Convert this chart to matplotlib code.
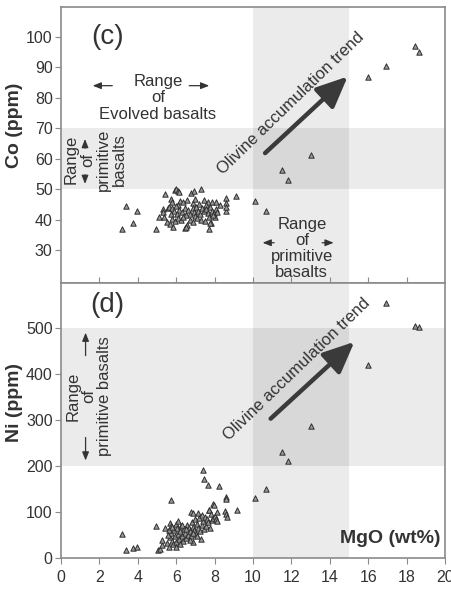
import matplotlib
matplotlib.use("Agg")
import matplotlib.pyplot as plt

plt.rcParams['font.family'] = ['Liberation Sans', 'DejaVu Sans']

# ---------------- data (c) Co vs MgO ----------------
mgo_c = [3.19, 3.37, 3.75, 3.98, 4.93,
         5.42, 5.92, 6.00, 6.08, 6.13, 6.79, 6.94, 7.31, 8.61, 9.13,
         5.73, 5.76, 6.20, 6.35, 6.55, 6.90, 7.00, 7.20, 7.45, 7.65, 7.85, 8.05, 8.30, 8.60, 7.55, 6.10,
         5.30, 5.33, 5.55, 5.65, 5.80, 5.90, 6.00, 6.15, 6.30, 6.45, 6.60, 6.70, 6.85, 6.95, 7.05, 7.15,
         7.25, 7.35, 7.45, 7.55, 7.65, 7.75, 7.85, 7.95, 8.05, 8.15, 8.60, 8.60, 5.75, 6.05, 6.50, 7.00,
         5.09, 5.37, 5.50, 5.68, 5.85, 5.80, 5.95, 6.10, 6.25, 6.55, 6.46, 6.70, 6.90, 7.10, 7.30, 7.50,
         7.70, 7.72, 7.80, 8.00, 7.90, 6.35, 6.51, 7.76,
         10.09, 10.66, 11.49, 11.84, 13.02, 15.99, 16.94, 18.44, 18.65]
co = [36.9, 44.7, 38.9, 43.0, 37.0,
      48.5, 49.9, 50.2, 49.6, 49.0, 48.9, 49.5, 50.2, 47.3, 47.8,
      46.9, 45.7, 46.3, 46.0, 46.6, 45.5, 46.8, 45.2, 46.5, 46.0, 45.7, 45.8, 45.0, 45.5, 44.8, 45.0,
      43.5, 42.5, 43.8, 44.3, 43.9, 42.8, 44.4, 43.2, 42.5, 44.0, 43.2, 42.0, 43.8, 42.7, 44.2, 43.0,
      41.8, 44.0, 42.9, 43.5, 42.4, 44.1, 43.0, 42.2, 43.6, 42.7, 43.0, 44.2, 42.0, 41.8, 41.5, 41.2,
      40.8, 40.8, 39.4, 38.6, 37.8, 40.2, 39.5, 40.5, 39.8, 38.4, 37.3, 40.0, 39.3, 40.6, 40.1, 39.7,
      40.8, 37.0, 39.0, 41.0, 41.6, 41.0, 37.5, 39.1,
      46.2, 42.8, 56.5, 53.0, 61.3, 86.8, 90.3, 96.9, 95.2]

# ---------------- data (d) Ni vs MgO ----------------
mgo_d = [3.19, 3.39, 3.77, 3.98,
         5.04, 5.16, 5.28, 5.28, 5.40, 4.95, 5.75, 5.68, 5.73, 5.99, 5.50, 5.60, 5.70, 5.75, 5.80, 5.85,
         5.90, 5.95, 6.00, 6.05, 6.10, 6.15, 6.20, 6.25, 6.30, 6.35, 6.40, 6.45, 6.50, 6.55, 6.60, 6.65,
         6.70, 6.75, 6.77, 6.80, 6.85, 6.89, 6.90, 6.95, 7.00, 7.05, 7.10, 7.12, 7.15, 7.20, 7.25, 7.29,
         7.33, 7.35, 7.40, 7.41, 7.45, 7.46, 7.50, 7.55, 7.60, 7.65, 7.67, 7.70, 7.73, 7.75, 7.80, 7.85,
         7.90, 7.93, 7.98, 8.00, 8.05, 8.10, 8.14, 8.23, 8.59, 8.59, 8.56, 8.59, 8.66, 9.15, 5.65, 5.80,
         6.00, 6.20, 6.10, 6.30, 6.50, 6.70, 6.90, 7.10, 5.55,
         10.09, 10.66, 11.49, 11.84, 13.02, 15.99, 16.94, 18.44, 18.65]
ni = [53, 18, 22, 25,
      18, 20, 28, 40, 66, 69, 126, 76, 70, 75, 32, 25, 45, 55, 38, 30,
      60, 48, 35, 65, 52, 42, 58, 70, 47, 38, 62, 55, 44, 72, 50, 65,
      58, 48, 100, 78, 35, 97, 68, 60, 85, 52, 75, 97, 65, 88, 58, 41,
      93, 72, 80, 191, 62, 171, 90, 70, 85, 78, 158, 105, 105, 65, 95, 82,
      88, 118, 116, 92, 85, 80, 100, 157, 133, 128, 102, 95, 89, 105, 60, 68,
      24, 30, 80, 72, 62, 40, 55, 48, 50,
      131, 150, 231, 211, 287, 419, 554, 504, 503]

x_ticks = [0, 2, 4, 6, 8, 10, 12, 14, 16, 18, 20]
co_ticks = [30, 40, 50, 60, 70, 80, 90, 100]
ni_ticks = [0, 100, 200, 300, 400, 500]

W, H = 452, 599
fig = plt.figure(figsize=(W / 100, H / 100), dpi=100)
left = 61 / W
width = (445 - 61) / W
ax1 = fig.add_axes([left, 1 - 283 / H, width, (283 - 7) / H])
ax2 = fig.add_axes([left, 1 - 558 / H, width, (558 - 283) / H])

spine_col = '#8a8a8a'
txt_col = '#333333'
shade = dict(color='black', alpha=0.08, lw=0, zorder=0)
mk = dict(marker='^', s=15, facecolor='#9a9a9a', edgecolor='#2e2e2e', linewidths=0.7, zorder=3)

for ax in (ax1, ax2):
    ax.set_xlim(0, 20)
    for sp in ax.spines.values():
        sp.set_color(spine_col)
        sp.set_linewidth(1.2)
    ax.axvspan(10, 15, **shade)

sa = dict(arrowstyle='-|>,head_length=0.5,head_width=0.2', lw=0.9, color=txt_col,
          shrinkA=0, shrinkB=0)
ba = dict(arrowstyle='-|>,head_length=1.9,head_width=0.85', lw=3.2, color='#3a3a3a',
          shrinkA=0, shrinkB=0)

# ---- panel (c)
ax1.set_ylim(19.3, 109.8)
ax1.axhspan(50, 70, **shade)
ax1.scatter(mgo_c, co, **mk)
ax1.set_yticks(co_ticks)
ax1.set_xticks(x_ticks[1:-1])
ax1.tick_params(axis='x', direction='in', length=4, color=spine_col, labelbottom=False)
ax1.tick_params(axis='y', direction='out', length=4, color=spine_col, labelsize=11.5,
                labelcolor=txt_col, pad=2)
ax1.set_ylabel('Co (ppm)', fontsize=14, fontweight='bold', color=txt_col)
ax1.yaxis.set_label_coords(-0.098, 0.572)

ax1.text(2.4, 100, '(c)', fontsize=20, color=txt_col, ha='center', va='center')
ax1.text(5.05, 80.0, 'Range\nof\nEvolved basalts', fontsize=12, color=txt_col,
         ha='center', va='center', linespacing=1.12)
ax1.annotate('', xy=(1.65, 84), xytext=(2.67, 84), arrowprops=sa)
ax1.annotate('', xy=(7.72, 84), xytext=(6.68, 84), arrowprops=sa)

ax1.text(1.8, 59.7, 'Range\nof\nprimitive\nbasalts', fontsize=12, color=txt_col,
         ha='center', va='center', rotation=90, linespacing=1.08)
ax1.annotate('', xy=(1.25, 66.5), xytext=(1.25, 63.5), arrowprops=sa)
ax1.annotate('', xy=(1.25, 51.8), xytext=(1.25, 54.8), arrowprops=sa)

ax1.text(12.54, 30.7, 'Range\nof\nprimitive\nbasalts', fontsize=12, color=txt_col,
         ha='center', va='center', linespacing=1.08)
ax1.annotate('', xy=(10.5, 32.5), xytext=(11.1, 32.5), arrowprops=sa)
ax1.annotate('', xy=(14.2, 32.5), xytext=(13.6, 32.5), arrowprops=sa)

ax1.annotate('', xy=(14.93, 87.0), xytext=(10.63, 61.9), arrowprops=ba)
ax1.text(11.95, 78.3, 'Olivine accumulation trend', fontsize=12, color=txt_col,
         ha='center', va='center', rotation=44, rotation_mode='anchor')

# ---- panel (d)
ax2.set_ylim(0, 598)
ax2.axhspan(200, 500, **shade)
ax2.scatter(mgo_d, ni, **mk)
ax2.set_yticks(ni_ticks)
ax2.set_xticks(x_ticks)
ax2.tick_params(axis='both', direction='out', length=4, color=spine_col, labelsize=11.5,
                labelcolor=txt_col, pad=2)
ax2.tick_params(axis='x', pad=5)
ax2.set_ylabel('Ni (ppm)', fontsize=14, fontweight='bold', color=txt_col)
ax2.yaxis.set_label_coords(-0.098, 0.567)

ax2.text(2.4, 550, '(d)', fontsize=20, color=txt_col, ha='center', va='center')
ax2.text(1.46, 352, 'Range\nof\nprimitive basalts', fontsize=12, color=txt_col,
         ha='center', va='center', rotation=90, linespacing=1.08)
ax2.annotate('', xy=(1.28, 490), xytext=(1.28, 440), arrowprops=sa)
ax2.annotate('', xy=(1.28, 212), xytext=(1.28, 262), arrowprops=sa)

ax2.annotate('', xy=(15.28, 470), xytext=(10.92, 303), arrowprops=ba)
ax2.text(12.3, 410, 'Olivine accumulation trend', fontsize=12, color=txt_col,
         ha='center', va='center', rotation=44, rotation_mode='anchor')
ax2.text(19.75, 42, 'MgO (wt%)', fontsize=14, fontweight='bold', color=txt_col,
         ha='right', va='center')

fig.savefig('out.png', dpi=100)
